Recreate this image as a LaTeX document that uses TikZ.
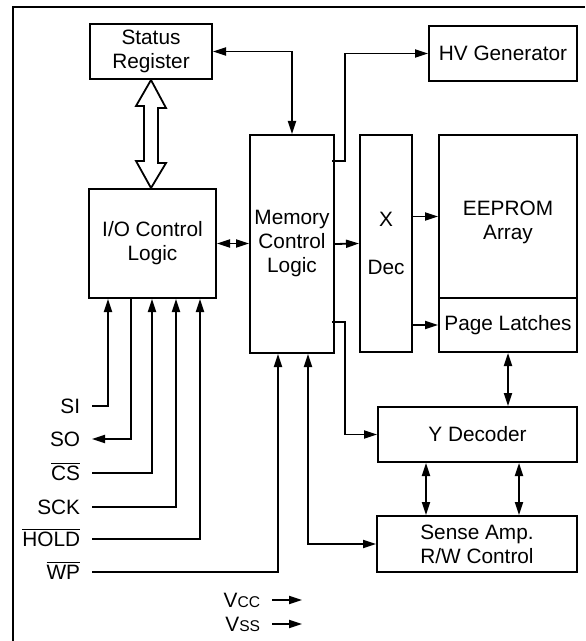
\documentclass[tikz,border=0pt]{standalone}
\usepackage{fontspec}
\setmainfont{Liberation Sans}
\usetikzlibrary{arrows.meta,calc}

\begin{document}
\begin{tikzpicture}[x=0.5pt,y=-0.5pt,
  >={Triangle[length=6.5pt,width=4pt]},
  line width=0.9pt,
  every node/.style={font=\fontsize{10.4}{12}\selectfont},
  block/.style={draw, line width=1pt, inner sep=0pt, align=center},
  pin/.style={anchor=east, inner xsep=5.5pt, inner ysep=0pt, text height=7.5pt, text depth=0pt},
  hollow/.style={draw, fill=white, line width=0.9pt}]
  \useasboundingbox (0,0) rectangle (585,641);
  % frame
  \draw[line width=1pt] (13,641) -- (13,7) -- (585,7);

  % blocks
  \node[block, minimum width=61pt, minimum height=27.5pt] (sr) at (151,51.5) {Status\\Register};
  \node[block, minimum width=74pt, minimum height=27.5pt] (hv) at (503,53.5) {HV Generator};
  \node[block, minimum width=63.5pt, minimum height=54.5pt] (io) at (152.5,243.5) {I/O Control\\Logic};
  \node[block, minimum width=42pt, minimum height=109pt] (mcl) at (292,244) {Memory\\Control\\Logic};
  \node[block, minimum width=26pt, minimum height=108.5pt] (xdec) at (386,243.5) {X\\[12pt]Dec};
  \node[block, minimum width=69pt, minimum height=81.5pt,
        label={[align=center, yshift=-3pt]center:EEPROM\\Array}] (arr) at (508,216.5) {};
  \node[block, minimum width=69pt, minimum height=27pt] (pl) at (508,325) {Page Latches};
  \node[block, minimum width=99.5pt, minimum height=27.5pt] (yd) at (477.5,434.5) {Y Decoder};
  \node[block, minimum width=100pt, minimum height=28pt] (sa) at (477,544) {Sense Amp.\\R/W Control};

  % pins
  \node[pin] (si) at (92,406) {SI};
  \node[pin] (so) at (92,439) {SO};
  \node[pin] (cs) at (92,473) {$\overline{\mbox{CS}}$};
  \node[pin] (sck) at (92,507) {SCK};
  \node[pin] (hold) at (92,539) {$\overline{\mbox{HOLD}}$};
  \node[pin] (wp) at (92,572) {$\overline{\mbox{WP}}$};
  \node[pin] (vcc) at (272,600) {V{\fontsize{7.8}{9}\selectfont CC}};
  \node[pin] (vss) at (272,624) {V{\fontsize{7.8}{9}\selectfont SS}};

  % status bus
  \draw[hollow] (sr.south) -- ++(15,28) -- ++(-8,0) -- ++(0,55) -- ++(8,0)
    -- (sr.south |- io.north) -- ++(-15,-27) -- ++(8,0) -- ++(0,-55) -- ++(-8,0) -- cycle;

  % connectors
  \draw[<->] (sr.east) -| (mcl.north);
  \draw[->] ($(mcl.north east)+(-3,27)$) -- ++(13,0) |- (hv.west);
  \draw[<->] (io.east) -- (io.east -| mcl.west);
  \draw[->] (mcl.east) -- (xdec.west);
  \draw[->] (xdec.east |- arr.west) -- (arr.west);
  \draw[->] (xdec.east |- pl.west) -- (pl.west);
  \draw[->] ($(mcl.south east)+(-3,-32)$) -- ++(13,0) |- (yd.west);
  \draw[<->] (pl.south) -- (pl.south |- yd.north);
  \foreach \cx in {426,519}
    \draw[<->] (yd.south -| \cx,0) -- (sa.north -| \cx,0);
  \draw[<->] (mcl.south -| 308,0) |- (sa.west);

  \draw[->] (si.east) -| (io.south -| 108,0);
  \draw[->] (io.south -| 131,0) |- (so.east);
  \draw[->] (cs.east) -| (io.south -| 152,0);
  \draw[->] (sck.east) -| (io.south -| 176,0);
  \draw[->] (hold.east) -| (io.south -| 200,0);
  \draw[->] (wp.east) -| (mcl.south -| 278,0);
  \draw[->] (vcc.east) -- ++(30,0);
  \draw[->] (vss.east) -- ++(30,0);
\end{tikzpicture}
\end{document}
